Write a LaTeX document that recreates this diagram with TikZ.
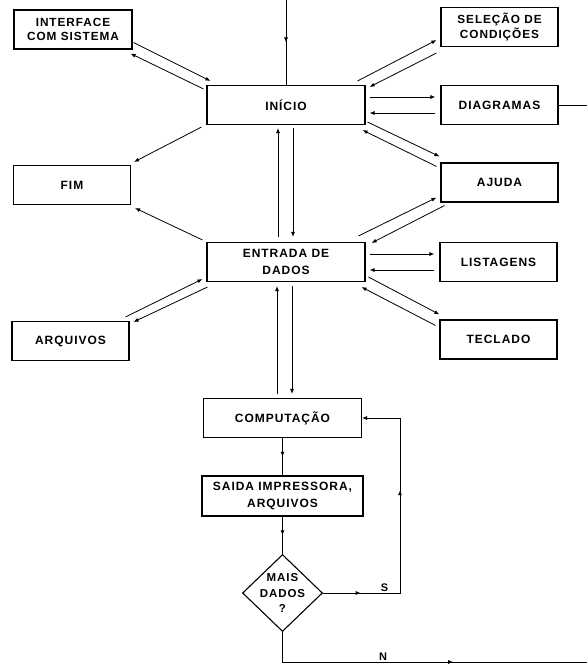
\documentclass[tikz,border=0pt]{standalone}
\usepackage{fontspec}
\setmainfont{Liberation Sans}[LetterSpace=8]
\usetikzlibrary{arrows.meta,shapes.geometric,decorations.markings}

\begin{document}
\begin{tikzpicture}[x=1pt, y=-1pt,
		every node/.style={font=\fontsize{12}{17.5}\selectfont\bfseries},
		box/.style={draw, line width=1.1pt, minimum width=158pt, minimum height=39pt, inner sep=0pt, align=center},
		sidebox/.style={box, minimum width=117pt},
		twoline/.style={font=\fontsize{11.8}{14.5}\selectfont\bfseries},
		flow/.style={line width=0.8pt, -{Latex[length=5pt,width=4pt]}},
		midarrow/.style={line width=0.8pt, postaction={decorate},
			decoration={markings, mark=at position #1 with {\arrow{Latex[length=5pt,width=4pt]}}}}]
		\useasboundingbox (0,0) rectangle (587,664);
		% central column
		\node[box] (inicio) at (286,105) {INÍCIO};
		\node[box] (entrada) at (286,262) {ENTRADA DE\\DADOS};
		\node[box] (computacao) at (282.5,418) {COMPUTAÇÃO};
		\node[box, minimum width=161pt, minimum height=40pt] (saida) at (282.5,496) {SAIDA IMPRESSORA,\\ARQUIVOS};
		\node[draw, diamond, line width=1.1pt, minimum width=80pt, minimum height=77pt, inner sep=-5pt, align=center,
			font=\fontsize{11.5}{15.5}\selectfont\bfseries] (mais) at (282.5,593) {MAIS\\DADOS\\?};
		% left column
		\node[sidebox, twoline, minimum width=118pt] (interface) at (73,29.5) {INTERFACE\\COM SISTEMA};
		\node[sidebox] (fim) at (72,185) {FIM};
		\node[sidebox] (arquivos) at (70.5,341) {ARQUIVOS};
		% right column
		\node[sidebox, twoline] (selecao) at (499.5,27) {SELEÇÃO DE\\CONDIÇÕES};
		\node[sidebox] (diagramas) at (499.5,105) {DIAGRAMAS};
		\node[sidebox] (ajuda) at (499.5,182.5) {AJUDA};
		\node[sidebox] (listagens) at (498.5,262) {LISTAGENS};
		\node[sidebox] (teclado) at (498.5,339.5) {TECLADO};
		% free ends
		\coordinate (entry) at (286,0);
		\coordinate (diagout) at (587,105);
		\coordinate (sturn) at (400,418);
		\coordinate (nout) at (587,662);

		% entry
		\draw[midarrow=0.5] (entry) -- (inicio.north);
		% interface com sistema
		\draw[flow] ([shift={(1,-7)}]interface.south east) -- ([shift={(4,-4)}]inicio.north west);
		\draw[flow] ([shift={(-3,4)}]inicio.north west) -- ([shift={(-2,4)}]interface.south east);
		% fim
		\draw[flow] ([shift={(-5,2)}]inicio.south west) -- ([shift={(3,-3)}]fim.north east);
		\draw[flow] ([shift={(-4,-2)}]entrada.north west) -- ([shift={(4,3)}]fim.south east);
		% arquivos
		\draw[flow] ([shift={(-4,-4)}]arquivos.north east) -- ([shift={(-4,-3)}]entrada.south west);
		\draw[flow] ([shift={(1,5)}]entrada.south west) -- ([shift={(4,1)}]arquivos.north east);
		% selecao de condicoes
		\draw[flow] ([shift={(-8,-4)}]inicio.north east) -- ([shift={(-4,-7)}]selecao.south west);
		\draw[flow] ([shift={(-4,6)}]selecao.south west) -- ([shift={(4,2)}]inicio.north east);
		% diagramas
		\draw[flow] ([shift={(4,-8)}]inicio.east) -- ([shift={(-5,-8)}]diagramas.west);
		\draw[flow] ([shift={(-5,8)}]diagramas.west) -- ([shift={(4,8)}]inicio.east);
		\draw[line width=0.8pt] (diagramas.east) -- (diagout);
		% ajuda
		\draw[flow] ([shift={(2,-3)}]inicio.south east) -- ([shift={(-1,-6)}]ajuda.north west);
		\draw[flow] ([shift={(-4,4)}]ajuda.north west) -- ([shift={(-3,5)}]inicio.south east);
		\draw[flow] ([shift={(-7,-6)}]entrada.north east) -- ([shift={(-4,-5)}]ajuda.south west);
		\draw[flow] ([shift={(4,3)}]ajuda.south west) -- ([shift={(6,1)}]entrada.north east);
		% listagens
		\draw[flow] ([shift={(4,-8)}]entrada.east) -- ([shift={(-5,-8)}]listagens.west);
		\draw[flow] ([shift={(-5,8)}]listagens.west) -- ([shift={(4,8)}]entrada.east);
		% teclado
		\draw[flow] ([shift={(3,-5)}]entrada.south east) -- ([shift={(0,-5)}]teclado.north west);
		\draw[flow] ([shift={(-4,6)}]teclado.north west) -- ([shift={(-4,5)}]entrada.south east);
		% inicio <-> entrada
		\draw[flow] ([shift={(-8,-5)}]entrada.north) -- ([shift={(-8,3)}]inicio.south);
		\draw[flow] ([shift={(7,3)}]inicio.south) -- ([shift={(7,-5)}]entrada.north);
		% entrada <-> computacao
		\draw[flow] ([shift={(-5.5,-4)}]computacao.north) -- ([shift={(-9,4)}]entrada.south);
		\draw[flow] ([shift={(6,4)}]entrada.south) -- ([shift={(9.5,-4)}]computacao.north);
		% computacao -> saida -> decisao
		\draw[midarrow=0.5] (computacao.south) -- (saida.north);
		\draw[midarrow=0.5] (saida.south) -- (mais.north);
		% loop S
		\draw[flow, postaction={decorate}, decoration={markings,
			mark=at position 0.13 with {\arrow{Latex[length=5pt,width=4pt]}},
			mark=at position 0.62 with {\arrow{Latex[length=5pt,width=4pt]}}}]
			(mais.east) -| node[pos=0.4, above=1pt, inner sep=0pt, font=\fontsize{11}{12}\selectfont\bfseries] (s) {S} (sturn) -- (computacao.east);
		% exit N
		\draw[midarrow=0.6] (mais.south) |- node[pos=0.665, above=1pt, inner sep=0pt, font=\fontsize{11}{12}\selectfont\bfseries] (n) {N} (nout);
\end{tikzpicture}
\end{document}
